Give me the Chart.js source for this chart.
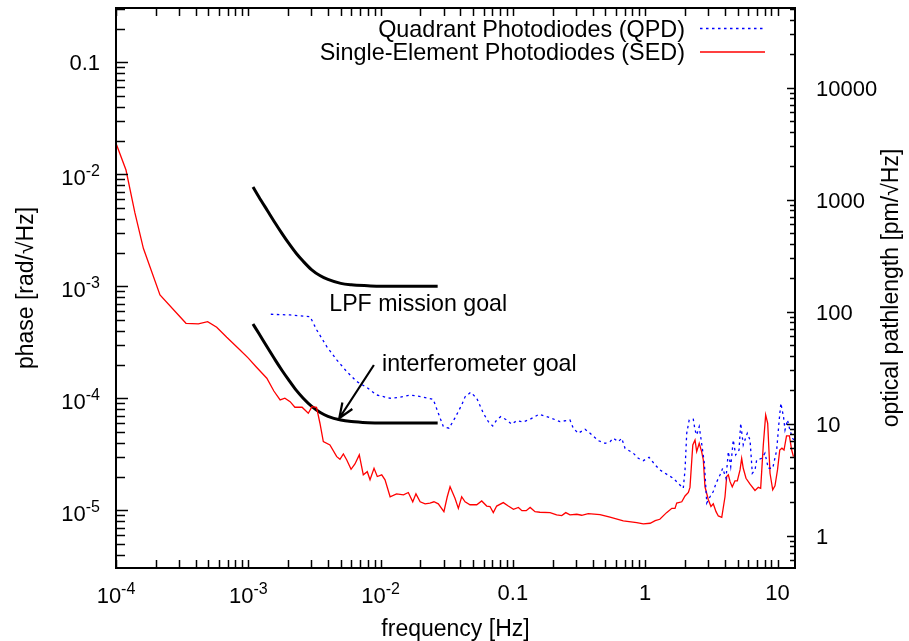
<!DOCTYPE html>
<html>
<head>
<meta charset="utf-8">
<script src="https://cdn.jsdelivr.net/npm/chart.js@4.4.1/dist/chart.umd.min.js"></script>
<style>
  html, body { margin: 0; padding: 0; background: #fff; }
  #wrap { width: 909px; height: 641px; }
</style>
</head>
<body>
<div id="wrap"><canvas id="psd" width="909" height="641"></canvas></div>
<script>
// Phase noise spectra (frequency in Hz, phase in rad/sqrt(Hz))
const sedFreq = [
  1.0e-4, 1.19e-4, 1.39e-4, 1.61e-4, 2.15e-4, 3.38e-4, 4.19e-4, 4.93e-4, 5.77e-4, 6.87e-4,
  8.66e-4, 1.0e-3, 1.14e-3, 1.38e-3, 1.56e-3, 1.74e-3, 1.89e-3, 2.07e-3, 2.25e-3, 2.55e-3,
  2.84e-3, 3.03e-3, 3.28e-3, 3.48e-3, 3.69e-3, 4.14e-3, 4.66e-3, 4.93e-3, 5.23e-3, 5.55e-3,
  5.98e-3, 6.40e-3, 6.90e-3, 7.40e-3, 7.93e-3, 8.32e-3, 8.92e-3, 9.44e-3, 1.02e-2, 1.08e-2,
  1.18e-2, 1.32e-2, 1.49e-2, 1.62e-2, 1.75e-2, 1.85e-2, 1.99e-2, 2.17e-2, 2.36e-2, 2.53e-2,
  2.73e-2, 3.01e-2, 3.19e-2, 3.35e-2, 3.65e-2, 3.87e-2, 4.10e-2, 4.35e-2, 4.74e-2, 5.33e-2,
  5.81e-2, 6.34e-2, 6.71e-2, 7.11e-2, 7.54e-2, 8.46e-2, 9.23e-2, 0.101, 0.110, 0.117,
  0.126, 0.135, 0.147, 0.160, 0.191, 0.214, 0.234, 0.251, 0.270, 0.304,
  0.331, 0.371, 0.455, 0.542, 0.683, 0.863, 0.968, 1.09, 1.19, 1.29,
  1.45, 1.59, 1.68, 1.73, 1.89, 2.00, 2.12, 2.18, 2.25, 2.29,
  2.38, 2.45, 2.56, 2.67, 2.75, 2.83, 3.00, 3.14, 3.27, 3.43,
  3.57, 3.79, 4.01, 4.13, 4.25, 4.38, 4.55, 4.77, 4.97, 5.21,
  5.36, 5.51, 5.78, 6.20, 6.76, 7.16, 7.46, 7.81, 8.14, 8.43,
  8.78, 9.20, 9.57, 10.0, 10.4, 10.8, 11.2, 11.7, 12.3, 12.8, 13.2
];
const sedPhase = [
  1.89e-2, 1.09e-2, 4.51e-3, 2.18e-3, 8.36e-4, 4.67e-4, 4.61e-4, 4.83e-4, 4.30e-4, 3.50e-4,
  2.70e-4, 2.28e-4, 1.92e-4, 1.51e-4, 1.16e-4, 9.66e-5, 1.0e-4, 9.32e-5, 8.31e-5, 8.31e-5,
  7.35e-5, 8.41e-5, 8.31e-5, 5.98e-5, 4.10e-5, 3.83e-5, 3.01e-5, 2.85e-5, 3.18e-5, 2.81e-5,
  2.32e-5, 2.59e-5, 3.12e-5, 2.07e-5, 2.21e-5, 1.87e-5, 2.37e-5, 2.0e-5, 2.07e-5, 1.87e-5,
  1.32e-5, 1.40e-5, 1.37e-5, 1.44e-5, 1.19e-5, 1.40e-5, 1.19e-5, 1.14e-5, 1.16e-5, 1.19e-5,
  1.14e-5, 9.72e-6, 1.32e-5, 1.62e-5, 1.28e-5, 1.04e-5, 1.32e-5, 1.19e-5, 1.12e-5, 1.12e-5,
  1.21e-5, 1.09e-5, 1.08e-5, 9.52e-6, 1.09e-5, 1.17e-5, 1.09e-5, 1.02e-5, 1.06e-5, 9.92e-6,
  9.92e-6, 1.06e-5, 9.72e-6, 9.60e-6, 9.52e-6, 9.08e-6, 8.95e-6, 9.52e-6, 9.08e-6, 9.21e-6,
  9.02e-6, 9.32e-6, 9.14e-6, 8.66e-6, 8.02e-6, 7.75e-6, 7.55e-6, 7.65e-6, 8.07e-6, 8.31e-6,
  9.52e-6, 1.04e-5, 1.04e-5, 1.16e-5, 1.19e-5, 1.34e-5, 1.44e-5, 1.60e-5, 2.81e-5, 3.83e-5,
  4.24e-5, 3.34e-5, 3.96e-5, 3.34e-5, 2.81e-5, 1.62e-5, 1.24e-5, 1.08e-5, 1.14e-5, 9.72e-6,
  8.89e-6, 8.66e-6, 1.32e-5, 2.0e-5, 2.07e-5, 1.80e-5, 1.62e-5, 1.83e-5, 1.83e-5, 2.29e-5,
  2.91e-5, 2.37e-5, 1.93e-5, 1.71e-5, 1.50e-5, 1.60e-5, 1.57e-5, 3.83e-5, 7.09e-5, 5.98e-5,
  2.14e-5, 1.52e-5, 1.65e-5, 2.29e-5, 3.45e-5, 3.58e-5, 3.45e-5, 4.61e-5, 4.61e-5, 3.45e-5, 3.01e-5
];

const qpdFreq = [
  1.48e-3, 2.07e-3, 2.93e-3, 3.29e-3, 3.92e-3, 4.66e-3, 5.55e-3, 6.60e-3, 7.85e-3, 9.34e-3,
  1.18e-2, 1.40e-2, 1.67e-2, 2.05e-2, 2.50e-2, 2.73e-2, 2.98e-2, 3.29e-2, 3.65e-2, 4.10e-2,
  4.35e-2, 4.80e-2, 5.33e-2, 5.98e-2, 6.52e-2, 7.04e-2, 7.54e-2, 8.09e-2, 8.98e-2, 9.79e-2,
  0.107, 0.119, 0.135, 0.158, 0.191, 0.227, 0.255, 0.270, 0.286, 0.312,
  0.351, 0.383, 0.442, 0.497, 0.542, 0.574, 0.626, 0.664, 0.704, 0.813,
  0.887, 0.968, 1.07, 1.19, 1.29, 1.45, 1.63, 1.83, 1.94, 2.00,
  2.06, 2.15, 2.31, 2.38, 2.45, 2.56, 2.67, 2.80, 2.92, 3.09,
  3.27, 3.43, 3.68, 3.85, 4.08, 4.25, 4.43, 4.63, 4.83, 5.12,
  5.27, 5.51, 5.91, 6.20, 6.45, 6.76, 6.96, 7.60, 8.04, 8.52,
  9.20, 9.86, 10.3, 10.6, 11.1, 11.4, 11.9, 12.4, 13.0, 13.3
];
const qpdPhase = [
  5.62e-4, 5.54e-4, 5.35e-4, 4.07e-4, 2.89e-4, 2.20e-4, 1.73e-4, 1.41e-4, 1.25e-4, 1.07e-4,
  1.0e-4, 1.02e-4, 1.07e-4, 1.03e-4, 9.76e-5, 7.35e-5, 5.58e-5, 5.40e-5, 6.67e-5, 8.71e-5,
  1.03e-4, 1.13e-4, 1.0e-4, 7.35e-5, 6.18e-5, 5.66e-5, 6.40e-5, 6.85e-5, 6.40e-5, 5.86e-5,
  6.31e-5, 6.14e-5, 6.49e-5, 7.20e-5, 6.71e-5, 6.18e-5, 6.33e-5, 6.40e-5, 5.40e-5, 4.87e-5,
  5.29e-5, 4.87e-5, 4.18e-5, 3.96e-5, 4.10e-5, 4.39e-5, 4.10e-5, 4.39e-5, 3.58e-5, 3.23e-5,
  2.91e-5, 2.77e-5, 2.97e-5, 2.54e-5, 2.29e-5, 2.10e-5, 1.93e-5, 1.68e-5, 1.57e-5, 2.29e-5,
  4.87e-5, 6.40e-5, 6.49e-5, 5.21e-5, 4.70e-5, 5.58e-5, 3.96e-5, 2.63e-5, 1.16e-5, 1.32e-5,
  1.47e-5, 1.74e-5, 2.07e-5, 2.37e-5, 1.93e-5, 3.34e-5, 2.45e-5, 4.24e-5, 3.12e-5, 3.45e-5,
  5.98e-5, 3.83e-5, 4.87e-5, 4.24e-5, 2.14e-5, 2.29e-5, 2.81e-5, 2.91e-5, 3.23e-5, 2.37e-5,
  2.37e-5, 3.45e-5, 6.40e-5, 9.02e-5, 6.85e-5, 5.21e-5, 6.40e-5, 5.21e-5, 4.39e-5, 4.24e-5
];

// Requirement curves (black), read at these frequencies
const goalFreq = [1.085e-3, 1.2e-3, 1.4e-3, 1.6e-3, 1.8e-3, 2.0e-3, 2.3e-3, 2.6e-3, 3.0e-3,
                  3.5e-3, 4.0e-3, 5.0e-3, 6.0e-3, 8.0e-3, 1.0e-2, 1.5e-2, 2.0e-2, 2.7e-2];
const lpfGoal  = [7.7e-3, 6.3e-3, 4.7e-3, 3.65e-3, 2.95e-3, 2.46e-3, 1.97e-3, 1.67e-3, 1.41e-3,
                  1.24e-3, 1.15e-3, 1.06e-3, 1.03e-3, 1.01e-3, 1.0e-3, 1.0e-3, 1.0e-3, 1.0e-3];
const ifoGoal  = [4.6e-4, 3.8e-4, 2.82e-4, 2.19e-4, 1.77e-4, 1.48e-4, 1.18e-4, 1.0e-4, 8.5e-5,
                  7.45e-5, 6.9e-5, 6.4e-5, 6.2e-5, 6.05e-5, 6.0e-5, 6.0e-5, 6.0e-5, 6.0e-5];

// Axis ticks and ranges
const xTickVals  = [1e-4, 1e-3, 1e-2, 0.1, 1, 10];
const xTickText  = ['10^-4', '10^-3', '10^-2', '0.1', '1', '10'];
const yTickVals  = [0.1, 1e-2, 1e-3, 1e-4, 1e-5];
const yTickText  = ['0.1', '10^-2', '10^-3', '10^-4', '10^-5'];
const y2TickVals = [1, 10, 100, 1000, 10000];
const y2TickText = ['1', '10', '100', '1000', '10000'];
const xRange  = [1e-4, 13.56];
const yRange  = [3.05e-6, 0.305];
const y2Range = [0.513, 51300];   // phase * lambda/(2 pi) in pm

const FONT = '"Liberation Sans", Arial, Helvetica, sans-serif';

function pts(xs, ys) { return xs.map((v, i) => ({ x: v, y: ys[i] })); }

// every 1..9 multiple in each decade between min and max
function logTicks(min, max) {
  const out = [];
  for (let e = Math.floor(Math.log10(min)); e <= Math.ceil(Math.log10(max)); e++) {
    for (let m = 1; m <= 9; m++) {
      const v = m * Math.pow(10, e);
      if (v >= min * 0.999 && v <= max * 1.001) out.push({ v, major: m === 1 });
    }
  }
  return out;
}

// draws "10^-3" style labels with a raised exponent
function drawTickLabel(c, text, x, y, align) {
  const parts = text.split('^');
  c.font = '22px ' + FONT;
  const wb = c.measureText(parts[0]).width;
  let we = 0;
  if (parts[1]) { c.font = '16px ' + FONT; we = c.measureText(parts[1]).width; }
  const w = wb + we;
  let x0 = x;
  if (align === 'center') x0 = x - w / 2;
  else if (align === 'right') x0 = x - w;
  c.textAlign = 'left';
  c.textBaseline = 'alphabetic';
  c.fillStyle = '#000';
  c.font = '22px ' + FONT;
  c.fillText(parts[0], x0, parts[1] ? y + 3 : y);
  if (parts[1]) {
    c.font = '16px ' + FONT;
    c.fillText(parts[1], x0 + wb, y - 6);
  }
}

const gnuplotFrame = {
  id: 'gnuplotFrame',
  afterDatasetsDraw(chart) {
    const { ctx: c, chartArea: a, scales } = chart;
    const sx = scales.x, sy = scales.y, sy2 = scales.y2;
    c.save();
    c.strokeStyle = '#000';
    c.lineWidth = 1.5;

    // x ticks, bottom and top, pointing inward
    logTicks(xRange[0], xRange[1]).forEach(t => {
      const px = Math.round(sx.getPixelForValue(t.v)) + 0.5;
      c.beginPath();
      c.moveTo(px, a.bottom); c.lineTo(px, a.bottom - 8);
      c.moveTo(px, a.top); c.lineTo(px, a.top + 8);
      c.stroke();
    });
    // left y ticks
    logTicks(yRange[0], yRange[1]).forEach(t => {
      const py = Math.round(sy.getPixelForValue(t.v)) + 0.5;
      c.beginPath();
      c.moveTo(a.left, py); c.lineTo(a.left + (t.major ? 12 : 9), py);
      c.stroke();
    });
    // right y2 ticks
    logTicks(y2Range[0], y2Range[1]).forEach(t => {
      const py = Math.round(sy2.getPixelForValue(t.v)) + 0.5;
      c.beginPath();
      c.moveTo(a.right, py); c.lineTo(a.right - (t.major ? 8 : 5), py);
      c.stroke();
    });

    // frame
    c.lineWidth = 2;
    c.strokeRect(a.left, a.top, a.right - a.left, a.bottom - a.top);

    // tick labels
    xTickVals.forEach((v, i) => drawTickLabel(c, xTickText[i], sx.getPixelForValue(v), 600, 'center'));
    yTickVals.forEach((v, i) => drawTickLabel(c, yTickText[i], 100, sy.getPixelForValue(v) + 8, 'right'));
    y2TickVals.forEach((v, i) => drawTickLabel(c, y2TickText[i], 816, sy2.getPixelForValue(v) + 8, 'left'));

    // axis titles
    c.fillStyle = '#000';
    c.font = '23px ' + FONT;
    c.textAlign = 'center';
    c.textBaseline = 'alphabetic';
    c.fillText('frequency [Hz]', (a.left + a.right) / 2, 636);
    const midY = (a.top + a.bottom) / 2;
    c.save();
    c.translate(33, midY); c.rotate(-Math.PI / 2);
    c.fillText('phase [rad/\u221AHz]', 0, 0);
    c.restore();
    c.save();
    c.translate(898, midY); c.rotate(-Math.PI / 2);
    c.fillText('optical pathlength [pm/\u221AHz]', 0, 0);
    c.restore();

    // key, top right inside the frame
    c.font = '23.4px ' + FONT;
    [0, 1].forEach((di, row) => {
      const ds = chart.data.datasets[di];
      const ty = 36.5 + row * 23.5;
      c.textAlign = 'right';
      c.fillText(ds.label, 685, ty);
      c.save();
      c.strokeStyle = ds.borderColor;
      c.lineWidth = ds.borderWidth;
      c.setLineDash(ds.borderDash || []);
      c.beginPath();
      c.moveTo(700, ty - 8); c.lineTo(765, ty - 8);
      c.stroke();
      c.restore();
    });

    // annotations in data coordinates
    c.font = '23.2px ' + FONT;
    c.textAlign = 'left';
    c.fillText('LPF mission goal', sx.getPixelForValue(4.09e-3), sy.getPixelForValue(6.02e-4));
    c.fillText('interferometer goal', sx.getPixelForValue(1.025e-2), sy.getPixelForValue(1.752e-4));

    const ax0 = sx.getPixelForValue(8.9e-3), ay0 = sy.getPixelForValue(1.98e-4);
    const ax1 = sx.getPixelForValue(4.87e-3), ay1 = sy.getPixelForValue(6.63e-5);
    const ang = Math.atan2(ay0 - ay1, ax0 - ax1);
    c.strokeStyle = '#000';
    c.lineWidth = 2.2;
    c.beginPath();
    c.moveTo(ax0, ay0); c.lineTo(ax1, ay1);
    c.moveTo(ax1 + 16 * Math.cos(ang - 0.38), ay1 + 16 * Math.sin(ang - 0.38));
    c.lineTo(ax1, ay1);
    c.lineTo(ax1 + 16 * Math.cos(ang + 0.38), ay1 + 16 * Math.sin(ang + 0.38));
    c.stroke();

    c.restore();
  }
};

new Chart(document.getElementById('psd'), {
  type: 'line',
  data: {
    datasets: [
      {
        label: 'Quadrant Photodiodes (QPD)',
        data: pts(qpdFreq, qpdPhase),
        borderColor: '#0000ff',
        borderWidth: 1.3,
        borderDash: [2.5, 3.5],
        pointRadius: 0,
        tension: 0
      },
      {
        label: 'Single-Element Photodiodes (SED)',
        data: pts(sedFreq, sedPhase),
        borderColor: '#ff0000',
        borderWidth: 1.3,
        pointRadius: 0,
        tension: 0
      },
      {
        label: 'LPF mission goal',
        data: pts(goalFreq, lpfGoal),
        borderColor: '#000',
        borderWidth: 3,
        pointRadius: 0,
        cubicInterpolationMode: 'monotone'
      },
      {
        label: 'interferometer goal',
        data: pts(goalFreq, ifoGoal),
        borderColor: '#000',
        borderWidth: 3,
        pointRadius: 0,
        cubicInterpolationMode: 'monotone'
      }
    ]
  },
  options: {
    responsive: false,
    animation: false,
    devicePixelRatio: 1,
    layout: { padding: { left: 116, top: 8, right: 114, bottom: 73 } },
    plugins: { legend: { display: false }, tooltip: { enabled: false } },
    scales: {
      x:  { type: 'logarithmic', min: xRange[0],  max: xRange[1],  display: false },
      y:  { type: 'logarithmic', min: yRange[0],  max: yRange[1],  display: false },
      y2: { type: 'logarithmic', min: y2Range[0], max: y2Range[1], display: false, position: 'right' }
    }
  },
  plugins: [gnuplotFrame]
});
</script>
</body>
</html>
